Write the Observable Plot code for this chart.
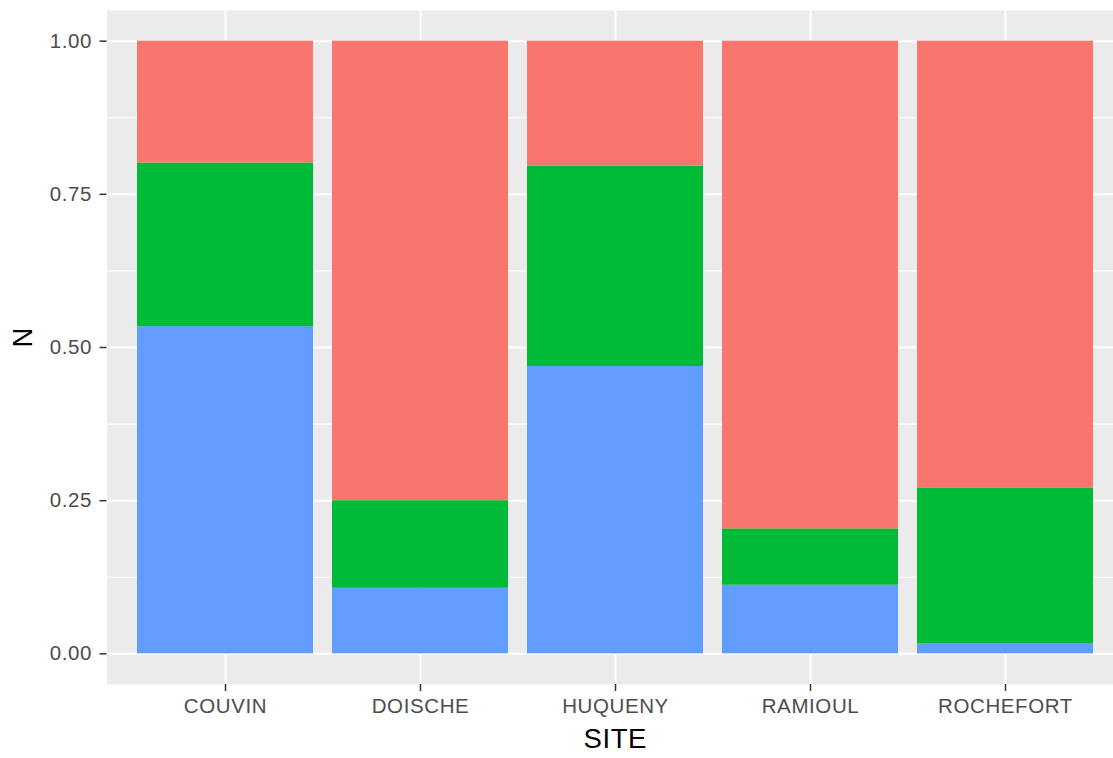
<!DOCTYPE html>
<html>
<head>
<meta charset="utf-8">
<script src="https://cdn.jsdelivr.net/npm/d3@7"></script>
<script src="https://cdn.jsdelivr.net/npm/@observablehq/plot@0.6"></script>
<style>
  html, body { margin: 0; padding: 0; background: white; overflow: hidden; }
  #chart { width: 1113px; height: 758px; }
  #chart svg text { letter-spacing: 0.6px; }
</style>
</head>
<body>
<div id="chart"></div>
<script>
// Categories (x axis)
const sites = ["COUVIN", "DOISCHE", "HUQUENY", "RAMIOUL", "ROCHEFORT"];
// Series (proportions, stacked to 1); A = top (red), B = middle (green), C = bottom (blue)
const seriesNames = ["A", "B", "C"];
const propA = [0.199, 0.750, 0.204, 0.796, 0.730];
const propB = [0.267, 0.143, 0.327, 0.092, 0.254];
const propC = [0.534, 0.107, 0.469, 0.112, 0.016];
const seriesColors = ["#F8766D", "#00BA38", "#619CFF"];
// Axis ticks
const yMajor = [0, 0.25, 0.5, 0.75, 1];
const yMinor = [0.125, 0.375, 0.625, 0.875];
const xTitle = "SITE";
const yTitle = "N";

const seriesValues = {A: propA, B: propB, C: propC};
const rows = [];
for (const s of ["C", "B", "A"]) {
  sites.forEach((site, i) => rows.push({site, group: s, value: seriesValues[s][i]}));
}

const font = "'Liberation Sans', Arial, Helvetica, sans-serif";

const chart = Plot.plot({
  width: 1113,
  height: 758,
  marginLeft: 106.5,
  marginRight: -10,
  marginTop: 10,
  marginBottom: 74,
  style: {fontFamily: font, background: "white", overflow: "hidden"},
  x: {type: "band", domain: sites, paddingInner: 0.1, paddingOuter: 0.15, axis: null},
  y: {domain: [-0.05, 1.05], axis: null},
  color: {domain: seriesNames, range: seriesColors},
  marks: [
    Plot.frame({fill: "#EBEBEB", stroke: "none"}),
    Plot.ruleY(yMinor, {stroke: "white", strokeWidth: 1.1}),
    Plot.ruleY(yMajor, {stroke: "white", strokeWidth: 2}),
    Plot.ruleX(sites, {stroke: "white", strokeWidth: 2}),
    Plot.barY(rows, {x: "site", y: "value", fill: "group", order: ["C", "B", "A"], inset: 0}),
    Plot.axisX({tickSize: 7, tickPadding: 7, fontSize: 20.5, label: null, stroke: "#333333", fill: "#4D4D4D", strokeWidth: 1.5}),
    Plot.axisY(yMajor, {tickSize: 7, tickPadding: 8, fontSize: 20.5, label: null, tickFormat: d3.format(".2f"), stroke: "#333333", fill: "#4D4D4D", strokeWidth: 1.5}),
    Plot.text([xTitle], {text: d => d, frameAnchor: "bottom", dy: 63, fontSize: 27.5, fill: "black"}),
    Plot.text([yTitle], {text: d => d, frameAnchor: "left", dx: -84, rotate: -90, fontSize: 27.5, fill: "black"})
  ]
});
document.getElementById("chart").appendChild(chart);
</script>
</body>
</html>
